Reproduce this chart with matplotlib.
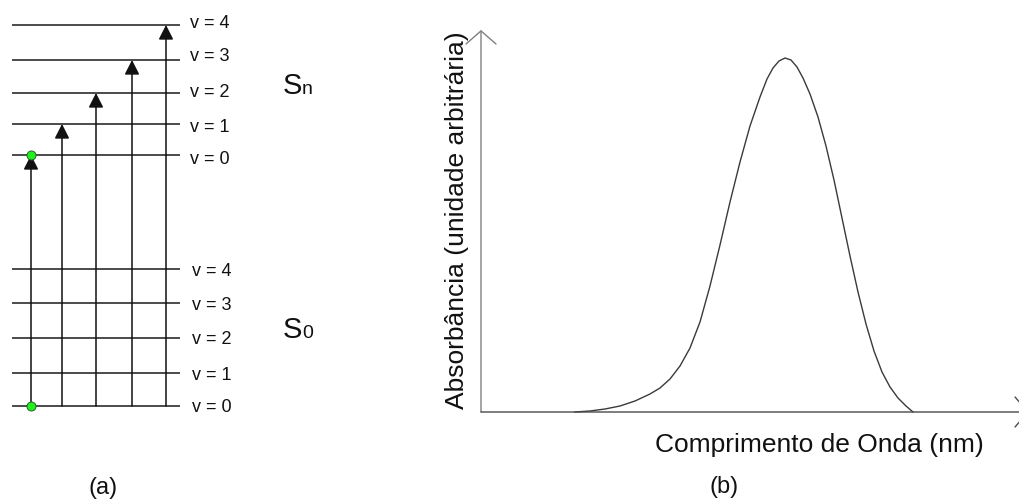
import matplotlib
matplotlib.use("Agg")
import matplotlib.pyplot as plt

plt.rcParams['font.family'] = ['Liberation Sans', 'DejaVu Sans']

# ---------------- data ----------------
# (a) energy levels (arbitrary energy units)
vib_labels = ["v = 0", "v = 1", "v = 2", "v = 3", "v = 4"]
s0_levels = [0, 33, 68, 103, 137]
sn_levels = [251, 282, 313, 346, 381]
# horizontal positions of the absorption transitions (S0 v=0 -> Sn v=0..4)
transition_x = [31, 62, 96, 132, 166]
level_x_range = [12, 180]

# (b) absorption spectrum (arbitrary units)
wavelength = [94, 109, 124, 139, 154, 169, 179, 189, 199, 209, 219, 229,
              239, 249, 259, 269, 279, 286, 292, 298, 304, 310, 316, 322,
              329, 337, 345, 353, 361, 369, 377, 385, 393, 401, 409, 417,
              425, 432]
absorbance = [0, 1, 3, 6, 11, 18, 24, 33, 46, 64, 90, 126,
              167, 210, 250, 286, 315, 333, 344, 351, 354, 352, 345, 334,
              318, 295, 266, 232, 194, 156, 120, 88, 61, 40, 25, 14,
              6, 0]

# ---------------- figure ----------------
W, H = 1019, 503
fig = plt.figure(figsize=(W / 100, H / 100), dpi=100)
fig.patch.set_facecolor('white')

# ---- panel (a) ----
axa = fig.add_axes([0, 0, 340 / W, 1])
axa.set_xlim(0, 340)
axa.set_ylim(406 - H, 406)
axa.axis('off')

line_kw = dict(color='#1a1a1a', lw=1.1, solid_capstyle='butt')
for lev in s0_levels:
    axa.plot(level_x_range, [lev, lev], **line_kw)
for lev in sn_levels:
    axa.plot(level_x_range, [lev, lev], **line_kw)

for lab, lev in zip(vib_labels, s0_levels):
    axa.text(192, lev, lab, fontsize=13, ha='left', va='center_baseline', color='#111')
sn_label_shift = [-2, -1, 3, 6, 4]
for lab, lev, dy in zip(vib_labels, sn_levels, sn_label_shift):
    axa.text(190, lev + dy, lab, fontsize=13, ha='left', va='center_baseline', color='#111')

for x, lev in zip(transition_x, sn_levels):
    axa.annotate('', xy=(x, lev), xytext=(x, s0_levels[0]),
                 arrowprops=dict(arrowstyle='-|>,head_length=0.55,head_width=0.28',
                                 mutation_scale=16, color='#111', lw=1.1,
                                 shrinkA=0, shrinkB=0))

axa.plot([transition_x[0], transition_x[0]], [s0_levels[0], sn_levels[0]],
         ls='none', marker='o', ms=6.5, mfc='#22ee22', mec='#226622', mew=0.7, zorder=5)

# state labels
axa.text(283, 312, 'S', fontsize=21, ha='left', va='baseline', color='#111')
axa.text(302, 312, 'n', fontsize=14, ha='left', va='baseline', color='#111')
axa.text(283, 68, 'S', fontsize=21, ha='left', va='baseline', color='#111')
axa.text(302, 68, '0', fontsize=14, ha='left', va='baseline', color='#111')

axa.text(103, 406 - 488, '(a)', fontsize=17, ha='center', va='center', color='#111')

# ---- panel (b) ----
axb = fig.add_axes([481 / W, 0, (W - 481) / W, 1])
axb.set_xlim(0, W - 481)
axb.set_ylim(412 - H, 412)
axb.axis('off')

axb.plot(wavelength, absorbance, color='#3a3a3a', lw=1.0, solid_joinstyle='round')

axb.annotate('', xy=(0, 382), xytext=(0, 0),
             arrowprops=dict(arrowstyle='->,head_length=0.47,head_width=0.54',
                             mutation_scale=20, color='#808080', lw=1.0,
                             shrinkA=0, shrinkB=0))
axb.annotate('', xy=(W - 481 + 10, 0), xytext=(0, 0),
             arrowprops=dict(arrowstyle='->,head_length=0.47,head_width=0.54',
                             mutation_scale=20, color='#4a4a4a', lw=1.0,
                             shrinkA=0, shrinkB=0),
             annotation_clip=False)

axb.text(-24, 412 - 220, 'Absorbância (unidade arbitrária)', fontsize=19,
         rotation=90, ha='center', va='center', color='#111')
axb.text(338, 412 - 445, 'Comprimento de Onda (nm)', fontsize=19,
         ha='center', va='center', color='#111')
axb.text(243, 412 - 487, '(b)', fontsize=17, ha='center', va='center', color='#111')

fig.savefig('out.png', dpi=100, facecolor='white')
